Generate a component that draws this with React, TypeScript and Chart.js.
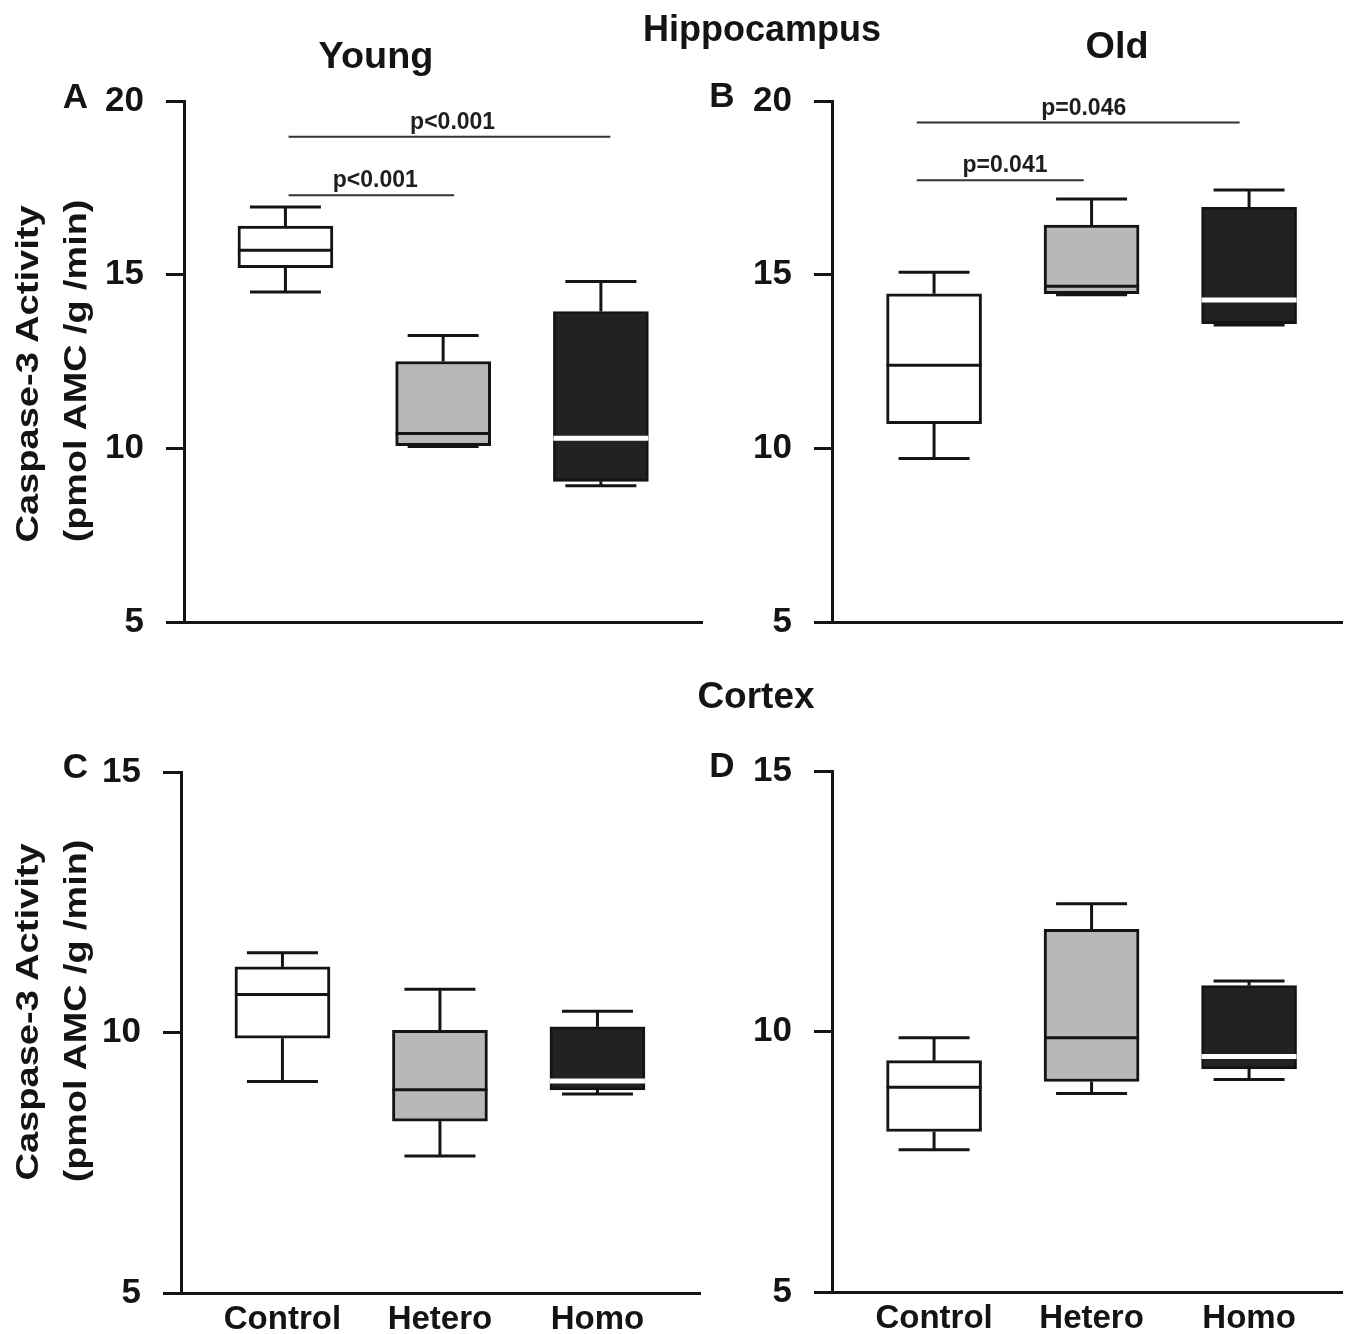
import React, { useEffect, useRef } from 'react';
import { Chart, registerables } from 'chart.js';

Chart.register(...registerables);

const FONT = '"Liberation Sans", Arial, Helvetica, sans-serif';
const INK = '#141414';

// ---------- data ----------
const CATEGORIES = ['Control', 'Hetero', 'Homo'];
const CATEGORY_X = [1, 2, 3];
const BOX_FILLS = ['#ffffff', '#b8b8b8', '#222222'];
const MEDIAN_COLORS = [INK, INK, '#ffffff'];

const HIPPO_TICKS = [5, 10, 15, 20];
const CORTEX_TICKS = [5, 10, 15];

// A: Hippocampus, Young
const A_LOW = [14.5, 10.05, 8.92];
const A_Q1 = [15.2, 10.08, 9.05];
const A_MED = [15.7, 10.43, 10.29];
const A_Q3 = [16.4, 12.5, 13.94];
const A_HIGH = [16.95, 13.25, 14.8];

// B: Hippocampus, Old
const B_LOW = [9.71, 14.42, 13.55];
const B_Q1 = [10.71, 14.45, 13.59];
const B_MED = [12.39, 14.67, 14.27];
const B_Q3 = [14.45, 16.43, 16.94];
const B_HIGH = [15.07, 17.18, 17.44];

// C: Cortex, Young
const C_LOW = [9.06, 7.63, 8.82];
const C_Q1 = [9.89, 8.3, 8.9];
const C_MED = [10.73, 8.9, 9.07];
const C_Q3 = [11.26, 10.04, 10.11];
const C_HIGH = [11.53, 10.83, 10.41];

// D: Cortex, Old
const D_LOW = [7.73, 8.81, 9.08];
const D_Q1 = [8.08, 9.04, 9.28];
const D_MED = [8.93, 9.88, 9.52];
const D_Q3 = [9.44, 11.96, 10.88];
const D_HIGH = [9.88, 12.45, 10.97];

// significance brackets
const A_SIG_FROM = [1.02, 1.02];
const A_SIG_TO = [3.06, 2.07];
const A_SIG_Y = [18.97, 17.29];
const A_SIG_LABELX = [2.06, 1.57];
const A_SIG_TEXT = ['p<0.001', 'p<0.001'];

const B_SIG_FROM = [0.89, 0.89];
const B_SIG_TO = [2.94, 1.95];
const B_SIG_Y = [19.38, 17.72];
const B_SIG_LABELX = [1.95, 1.45];
const B_SIG_TEXT = ['p=0.046', 'p=0.041'];

// ---------- styling ----------
const BOX_WIDTH = 95;
const CAP_WIDTH = 71;

type Sig = { from: number[]; to: number[]; y: number[]; labelX: number[]; text: string[] };
type PanelSpec = {
  left: number; top: number; width: number; height: number;
  areaLeft: number; areaTop: number; areaRight: number; areaBottom: number;
  xMin: number; xMax: number; yMin: number; yMax: number; ticks: number[];
  low: number[]; q1: number[]; med: number[]; q3: number[]; high: number[];
  showX: boolean; xAxisH: number; sig?: Sig;
};

function line(ctx: CanvasRenderingContext2D, x1: number, y1: number, x2: number, y2: number) {
  ctx.beginPath();
  ctx.moveTo(x1, y1);
  ctx.lineTo(x2, y2);
  ctx.stroke();
}

function boxPlugin(p: PanelSpec) {
  return {
    id: 'boxExtras',
    afterDatasetsDraw(chart: any) {
      const ctx: CanvasRenderingContext2D = chart.ctx;
      const xs = chart.scales.x;
      const ys = chart.scales.y;
      ctx.save();
      ctx.lineCap = 'butt';
      CATEGORY_X.forEach((cx, i) => {
        const px = xs.getPixelForValue(cx);
        const yHigh = ys.getPixelForValue(p.high[i]);
        const yQ3 = ys.getPixelForValue(p.q3[i]);
        const yQ1 = ys.getPixelForValue(p.q1[i]);
        const yLow = ys.getPixelForValue(p.low[i]);
        const yMed = ys.getPixelForValue(p.med[i]);
        ctx.strokeStyle = INK;
        ctx.lineWidth = 3;
        line(ctx, px, yQ3, px, yHigh);
        line(ctx, px - CAP_WIDTH / 2, yHigh, px + CAP_WIDTH / 2, yHigh);
        line(ctx, px, yQ1, px, yLow);
        line(ctx, px - CAP_WIDTH / 2, yLow, px + CAP_WIDTH / 2, yLow);
        ctx.strokeStyle = MEDIAN_COLORS[i];
        ctx.lineWidth = MEDIAN_COLORS[i] === '#ffffff' ? 5 : 3;
        line(ctx, px - BOX_WIDTH / 2, yMed, px + BOX_WIDTH / 2, yMed);
      });
      if (p.sig) {
        const s = p.sig;
        s.y.forEach((v, k) => {
          const y = ys.getPixelForValue(v);
          ctx.strokeStyle = '#333333';
          ctx.lineWidth = 2;
          line(ctx, xs.getPixelForValue(s.from[k]), y, xs.getPixelForValue(s.to[k]), y);
          ctx.fillStyle = '#1e1e1e';
          ctx.font = `bold 23px ${FONT}`;
          ctx.textAlign = 'center';
          ctx.textBaseline = 'alphabetic';
          ctx.fillText(s.text[k], xs.getPixelForValue(s.labelX[k]), y - 8);
        });
      }
      ctx.restore();
    },
  };
}

function zeroPadding(s: any) {
  s.paddingTop = 0;
  s.paddingBottom = 0;
  s.paddingLeft = 0;
  s.paddingRight = 0;
}

function PanelChart({ p }: { p: PanelSpec }) {
  const ref = useRef<HTMLCanvasElement | null>(null);
  useEffect(() => {
    if (!ref.current) return;
    const chart = new Chart(ref.current, {
      type: 'bar',
      data: {
        datasets: [
          {
            data: CATEGORY_X.map((x, i) => ({ x, y: [p.q1[i], p.q3[i]] })) as any,
            backgroundColor: BOX_FILLS,
            borderColor: INK,
            borderWidth: 3,
            borderSkipped: false,
            barThickness: BOX_WIDTH,
          } as any,
        ],
      },
      options: {
        animation: false,
        responsive: false,
        devicePixelRatio: 1,
        events: [],
        layout: {
          padding: {
            left: 0,
            top: p.areaTop - p.top,
            right: p.left + p.width - p.areaRight,
            bottom: p.top + p.height - p.areaBottom - p.xAxisH,
          },
        },
        plugins: { legend: { display: false }, tooltip: { enabled: false } },
        scales: {
          x: {
            type: 'linear',
            min: p.xMin,
            max: p.xMax,
            offset: false,
            afterBuildTicks: (s: any) => {
              s.ticks = CATEGORY_X.map((v) => ({ value: v }));
            },
            afterFit: (s: any) => {
              s.height = p.xAxisH;
              zeroPadding(s);
            },
            ticks: {
              display: p.showX,
              autoSkip: false,
              maxRotation: 0,
              padding: 7,
              color: INK,
              font: { family: FONT, size: 33, weight: 'bold' },
              callback: (v: any) => CATEGORIES[CATEGORY_X.indexOf(Number(v))] ?? '',
            },
            grid: { display: false, drawTicks: false, offset: false },
            border: { display: true, color: INK, width: 3 },
          },
          y: {
            min: p.yMin,
            max: p.yMax,
            afterBuildTicks: (s: any) => {
              s.ticks = p.ticks.map((v) => ({ value: v }));
            },
            afterFit: (s: any) => {
              s.width = p.areaLeft - p.left;
              zeroPadding(s);
            },
            ticks: {
              color: INK,
              padding: 22,
              font: { family: FONT, size: 35, weight: 'bold' },
            },
            grid: {
              display: true,
              drawOnChartArea: false,
              drawTicks: true,
              tickLength: 18,
              tickWidth: 3,
              tickColor: INK,
              color: INK,
              lineWidth: 3,
            },
            border: { display: true, color: INK, width: 3 },
          },
        } as any,
      },
      plugins: [boxPlugin(p)],
    } as any);
    return () => chart.destroy();
  }, [p]);
  return (
    <canvas
      ref={ref}
      width={p.width}
      height={p.height}
      style={{ position: 'absolute', left: p.left, top: p.top, width: p.width, height: p.height }}
    />
  );
}

const PANELS: PanelSpec[] = [
  {
    left: 0, top: 0, width: 720, height: 680,
    areaLeft: 184, areaTop: 101, areaRight: 702, areaBottom: 622,
    xMin: 0.357, xMax: 3.641, yMin: 5, yMax: 20, ticks: HIPPO_TICKS,
    low: A_LOW, q1: A_Q1, med: A_MED, q3: A_Q3, high: A_HIGH,
    showX: false, xAxisH: 0,
    sig: { from: A_SIG_FROM, to: A_SIG_TO, y: A_SIG_Y, labelX: A_SIG_LABELX, text: A_SIG_TEXT },
  },
  {
    left: 690, top: 0, width: 668, height: 680,
    areaLeft: 832, areaTop: 101, areaRight: 1342, areaBottom: 622,
    xMin: 0.352, xMax: 3.59, yMin: 5, yMax: 20, ticks: HIPPO_TICKS,
    low: B_LOW, q1: B_Q1, med: B_MED, q3: B_Q3, high: B_HIGH,
    showX: false, xAxisH: 0,
    sig: { from: B_SIG_FROM, to: B_SIG_TO, y: B_SIG_Y, labelX: B_SIG_LABELX, text: B_SIG_TEXT },
  },
  {
    left: 0, top: 700, width: 720, height: 634,
    areaLeft: 181, areaTop: 772, areaRight: 700, areaBottom: 1293,
    xMin: 0.356, xMax: 3.651, yMin: 5, yMax: 15, ticks: CORTEX_TICKS,
    low: C_LOW, q1: C_Q1, med: C_MED, q3: C_Q3, high: C_HIGH,
    showX: true, xAxisH: 41,
  },
  {
    left: 690, top: 700, width: 668, height: 634,
    areaLeft: 832, areaTop: 771, areaRight: 1342, areaBottom: 1292,
    xMin: 0.352, xMax: 3.59, yMin: 5, yMax: 15, ticks: CORTEX_TICKS,
    low: D_LOW, q1: D_Q1, med: D_MED, q3: D_Q3, high: D_HIGH,
    showX: true, xAxisH: 42,
  },
];

function Txt({ text, cx, baseline, size, sx = 1 }: { text: string; cx: number; baseline: number; size: number; sx?: number }) {
  return (
    <div
      style={{
        position: 'absolute',
        left: cx,
        top: baseline - 0.8465 * size,
        transform: `translateX(-50%) scaleX(${sx})`,
        fontFamily: FONT,
        fontWeight: 'bold',
        fontSize: size,
        lineHeight: `${size}px`,
        whiteSpace: 'nowrap',
        color: INK,
      }}
    >
      {text}
    </div>
  );
}

function VTxt({ text, cx, cy, size, sx = 1 }: { text: string; cx: number; cy: number; size: number; sx?: number }) {
  return (
    <div
      style={{
        position: 'absolute',
        left: cx,
        top: cy,
        transform: `translate(-50%, -50%) rotate(-90deg) scaleX(${sx})`,
        fontFamily: FONT,
        fontWeight: 'bold',
        fontSize: size,
        lineHeight: `${size}px`,
        whiteSpace: 'nowrap',
        color: INK,
      }}
    >
      {text}
    </div>
  );
}

const Y_TITLE_1 = 'Caspase-3 Activity';
const Y_TITLE_2 = '(pmol AMC /g /min)';

export default function App() {
  return (
    <div
      style={{
        position: 'absolute',
        left: 0,
        top: 0,
        width: 1358,
        height: 1334,
        background: '#ffffff',
        overflow: 'hidden',
      }}
    >
      {PANELS.map((p, i) => (
        <PanelChart key={i} p={p} />
      ))}
      <Txt text="Hippocampus" cx={762} baseline={41} size={36} />
      <Txt text="Young" cx={376} baseline={68} size={36} sx={1.05} />
      <Txt text="Old" cx={1117} baseline={58} size={36} sx={1.05} />
      <Txt text="Cortex" cx={756} baseline={708} size={37} />
      <Txt text="A" cx={75.5} baseline={108} size={35} />
      <Txt text="B" cx={722} baseline={107} size={35} />
      <Txt text="C" cx={75.5} baseline={778} size={35} />
      <Txt text="D" cx={722} baseline={777} size={35} />
      <VTxt text={Y_TITLE_1} cx={26.5} cy={374} size={32} sx={1.19} />
      <VTxt text={Y_TITLE_2} cx={75} cy={371} size={32} sx={1.18} />
      <VTxt text={Y_TITLE_1} cx={26.5} cy={1012} size={32} sx={1.19} />
      <VTxt text={Y_TITLE_2} cx={75} cy={1011} size={32} sx={1.18} />
    </div>
  );
}
